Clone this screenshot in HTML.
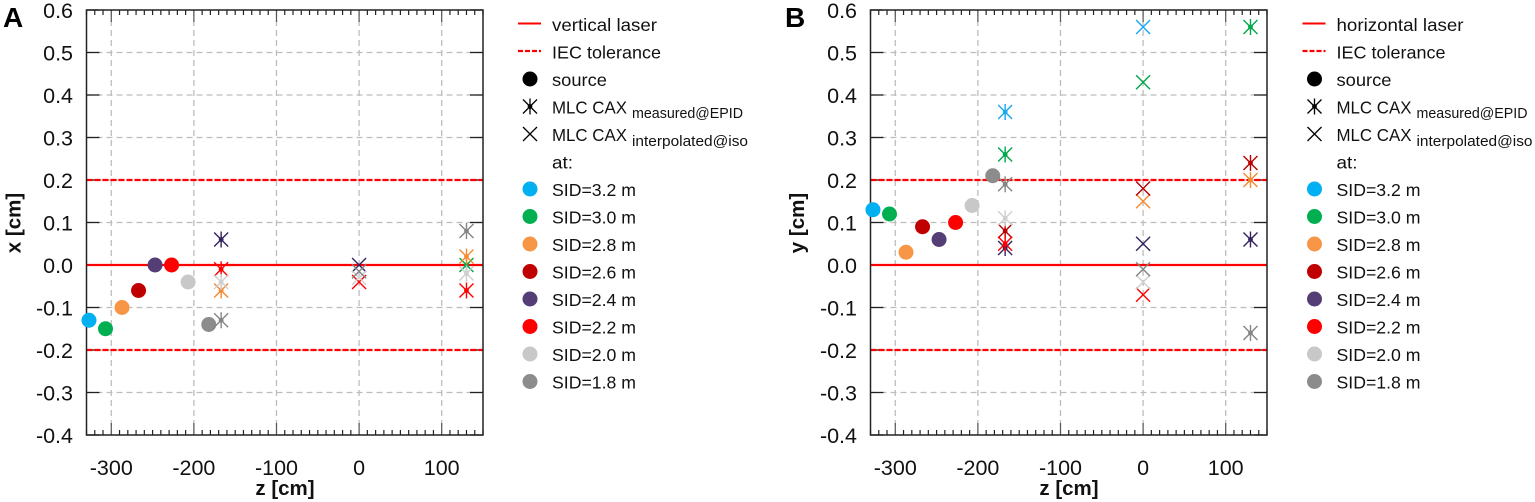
<!DOCTYPE html>
<html lang="en">
<head>
<meta charset="utf-8">
<title>MLC CAX and source positions versus lasers</title>
<style>
html,body{margin:0;padding:0;background:#fff;width:1535px;height:502px;overflow:hidden}
svg{display:block;filter:blur(0.35px)}
text{font-family:"Liberation Sans",sans-serif;fill:#111}
.leg{font-size:17.5px}
.sub{font-size:14.5px}
.tick{font-size:21.5px}
.title{font-size:20.5px;font-weight:bold}
.panel{font-size:28px;font-weight:bold;fill:#000}
</style>
</head>
<body>
<svg id="figure" xmlns="http://www.w3.org/2000/svg" width="1535" height="502" viewBox="0 0 1535 502">
  <g id="panel-a">
    <g id="plot-a"></g>
    <text class="panel" x="3" y="27">A</text>
    <text class="title" transform="translate(20.5 223) rotate(-90)" text-anchor="middle">x [cm]</text>
    <text class="title" x="285" y="495" text-anchor="middle">z [cm]</text>
    <g>
      <line x1="518" y1="23.5" x2="541" y2="23.5" stroke="#ff0000" stroke-width="2"/>
      <text class="leg" x="552" y="31" textLength="105" lengthAdjust="spacingAndGlyphs">vertical laser</text>
      <line x1="518" y1="51" x2="541" y2="51" stroke="#ff0000" stroke-width="2.2" stroke-dasharray="5 2"/>
      <text class="leg" x="552" y="58.5" textLength="109" lengthAdjust="spacingAndGlyphs">IEC tolerance</text>
      <circle cx="530" cy="79" r="7.5" fill="#000"/>
      <text class="leg" x="552" y="86" textLength="55" lengthAdjust="spacingAndGlyphs">source</text>
      <path d="M523 99.500L537 113.500M537 99.500L523 113.500M530 98.500V114.500" stroke="#000" stroke-width="1.300" fill="none"/>
      <circle cx="530" cy="106.500" r="2.4" fill="#000"/>
      <text class="leg" x="552" y="113.500" textLength="75" lengthAdjust="spacingAndGlyphs">MLC CAX</text>
      <text class="sub" x="632" y="118" textLength="111" lengthAdjust="spacingAndGlyphs">measured@EPID</text>
      <path d="M523 127L537 141M537 127L523 141" stroke="#000" stroke-width="1.300" fill="none"/>
      <text class="leg" x="552" y="141" textLength="75" lengthAdjust="spacingAndGlyphs">MLC CAX</text>
      <text class="sub" x="632" y="146" textLength="116" lengthAdjust="spacingAndGlyphs">interpolated@iso</text>
      <text class="leg" x="552" y="168.500" textLength="21" lengthAdjust="spacingAndGlyphs">at:</text>
      <circle cx="530" cy="189" r="7.5" fill="#00b0f0"/>
      <text class="leg" x="552" y="196" textLength="84" lengthAdjust="spacingAndGlyphs">SID=3.2 m</text>
      <circle cx="530" cy="216.500" r="7.5" fill="#00b050"/>
      <text class="leg" x="552" y="223.500" textLength="84" lengthAdjust="spacingAndGlyphs">SID=3.0 m</text>
      <circle cx="530" cy="244" r="7.5" fill="#f79646"/>
      <text class="leg" x="552" y="251" textLength="84" lengthAdjust="spacingAndGlyphs">SID=2.8 m</text>
      <circle cx="530" cy="271.500" r="7.5" fill="#c00000"/>
      <text class="leg" x="552" y="278.500" textLength="84" lengthAdjust="spacingAndGlyphs">SID=2.6 m</text>
      <circle cx="530" cy="299" r="7.5" fill="#553d75"/>
      <text class="leg" x="552" y="306" textLength="84" lengthAdjust="spacingAndGlyphs">SID=2.4 m</text>
      <circle cx="530" cy="326.500" r="7.5" fill="#ff0000"/>
      <text class="leg" x="552" y="333.500" textLength="84" lengthAdjust="spacingAndGlyphs">SID=2.2 m</text>
      <circle cx="530" cy="354" r="7.5" fill="#c8c8c8"/>
      <text class="leg" x="552" y="361" textLength="84" lengthAdjust="spacingAndGlyphs">SID=2.0 m</text>
      <circle cx="530" cy="381.500" r="7.5" fill="#8c8c8c"/>
      <text class="leg" x="552" y="388.500" textLength="84" lengthAdjust="spacingAndGlyphs">SID=1.8 m</text>
    </g>
  </g>
  <g id="panel-b">
    <g id="plot-b"></g>
    <text class="panel" x="785" y="27">B</text>
    <text class="title" transform="translate(804 223) rotate(-90)" text-anchor="middle">y [cm]</text>
    <text class="title" x="1069" y="495" text-anchor="middle">z [cm]</text>
    <g transform="translate(784.500 0)">
      <line x1="518" y1="23.5" x2="541" y2="23.5" stroke="#ff0000" stroke-width="2"/>
      <text class="leg" x="552" y="31" textLength="127" lengthAdjust="spacingAndGlyphs">horizontal laser</text>
      <line x1="518" y1="51" x2="541" y2="51" stroke="#ff0000" stroke-width="2.2" stroke-dasharray="5 2"/>
      <text class="leg" x="552" y="58.5" textLength="109" lengthAdjust="spacingAndGlyphs">IEC tolerance</text>
      <circle cx="530" cy="79" r="7.5" fill="#000"/>
      <text class="leg" x="552" y="86" textLength="55" lengthAdjust="spacingAndGlyphs">source</text>
      <path d="M523 99.500L537 113.500M537 99.500L523 113.500M530 98.500V114.500" stroke="#000" stroke-width="1.300" fill="none"/>
      <circle cx="530" cy="106.500" r="2.4" fill="#000"/>
      <text class="leg" x="552" y="113.500" textLength="75" lengthAdjust="spacingAndGlyphs">MLC CAX</text>
      <text class="sub" x="632" y="118" textLength="111" lengthAdjust="spacingAndGlyphs">measured@EPID</text>
      <path d="M523 127L537 141M537 127L523 141" stroke="#000" stroke-width="1.300" fill="none"/>
      <text class="leg" x="552" y="141" textLength="75" lengthAdjust="spacingAndGlyphs">MLC CAX</text>
      <text class="sub" x="632" y="146" textLength="116" lengthAdjust="spacingAndGlyphs">interpolated@iso</text>
      <text class="leg" x="552" y="168.500" textLength="21" lengthAdjust="spacingAndGlyphs">at:</text>
      <circle cx="530" cy="189" r="7.5" fill="#00b0f0"/>
      <text class="leg" x="552" y="196" textLength="84" lengthAdjust="spacingAndGlyphs">SID=3.2 m</text>
      <circle cx="530" cy="216.500" r="7.5" fill="#00b050"/>
      <text class="leg" x="552" y="223.500" textLength="84" lengthAdjust="spacingAndGlyphs">SID=3.0 m</text>
      <circle cx="530" cy="244" r="7.5" fill="#f79646"/>
      <text class="leg" x="552" y="251" textLength="84" lengthAdjust="spacingAndGlyphs">SID=2.8 m</text>
      <circle cx="530" cy="271.500" r="7.5" fill="#c00000"/>
      <text class="leg" x="552" y="278.500" textLength="84" lengthAdjust="spacingAndGlyphs">SID=2.6 m</text>
      <circle cx="530" cy="299" r="7.5" fill="#553d75"/>
      <text class="leg" x="552" y="306" textLength="84" lengthAdjust="spacingAndGlyphs">SID=2.4 m</text>
      <circle cx="530" cy="326.500" r="7.5" fill="#ff0000"/>
      <text class="leg" x="552" y="333.500" textLength="84" lengthAdjust="spacingAndGlyphs">SID=2.2 m</text>
      <circle cx="530" cy="354" r="7.5" fill="#c8c8c8"/>
      <text class="leg" x="552" y="361" textLength="84" lengthAdjust="spacingAndGlyphs">SID=2.0 m</text>
      <circle cx="530" cy="381.500" r="7.5" fill="#8c8c8c"/>
      <text class="leg" x="552" y="388.500" textLength="84" lengthAdjust="spacingAndGlyphs">SID=1.8 m</text>
    </g>
  </g>
</svg>
<script>
// Data, in SID order
const sidLabels = ['3.2', '3.0', '2.8', '2.6', '2.4', '2.2', '2.0', '1.8'];
const sourceZ = [-327, -307, -287, -267, -247, -227, -207, -182];
const zTickValues = [-300, -200, -100, 0, 100];
const offsetTickValues = [0.6, 0.5, 0.4, 0.3, 0.2, 0.1, 0.0, -0.1, -0.2, -0.3, -0.4];
const toleranceValues = [0.2, -0.2];
const laserValue = 0;
const measuredNearZ = -167;
const interpolatedZ = 0;
const measuredFarZ = 130;

const sourceA = [-0.13, -0.15, -0.10, -0.06, 0.0, 0.0, -0.04, -0.14];
const nearA = [null, null, -0.06, null, 0.06, -0.01, -0.04, -0.13];
const isoA = [null, null, null, null, 0.0, -0.04, -0.03, -0.015];
const farA = [null, 0.0, 0.02, null, null, -0.06, -0.02, 0.08];

const sourceB = [0.13, 0.12, 0.03, 0.09, 0.06, 0.10, 0.14, 0.21];
const nearB = [0.36, 0.26, null, 0.08, 0.04, 0.05, 0.11, 0.19];
const isoB = [0.56, 0.43, 0.15, 0.18, 0.05, -0.07, -0.04, -0.01];
const farB = [null, 0.56, 0.20, 0.24, 0.06, null, null, -0.16];

// Styling
const dotColors = ['#00b0f0', '#00b050', '#f79646', '#c00000', '#553d75', '#ff0000', '#c8c8c8', '#8c8c8c'];
const strokeColors = ['#18a8f0', '#00a84c', '#f58a30', '#b80000', '#33235f', '#ff0000', '#cfcfcf', '#858585'];

const SVG_NS = 'http://www.w3.org/2000/svg';
const ZMIN = -330, ZMAX = 150, VMIN = -0.4, VMAX = 0.6;
const PLOT_W = 396.5, PLOT_TOP = 10, PLOT_BOTTOM = 435;

function add(parent, tag, attrs, name) {
  const el = document.createElementNS(SVG_NS, tag);
  for (const k in attrs) el.setAttribute(k, attrs[k]);
  
  
  parent.appendChild(el);
  return el;
}

function drawPanel(groupId, left, tickRight, sources, near, iso, far) {
  const root = document.getElementById(groupId);
  const right = left + PLOT_W;
  const sx = z => left + (z - ZMIN) / (ZMAX - ZMIN) * PLOT_W;
  const sy = v => PLOT_BOTTOM - (v - VMIN) / (VMAX - VMIN) * (PLOT_BOTTOM - PLOT_TOP);

  // Grid
  zTickValues.forEach(z => {
    add(root, 'line', { x1: sx(z), x2: sx(z), y1: PLOT_TOP, y2: PLOT_BOTTOM, stroke: '#bdbdbd', 'stroke-width': 1.3, 'stroke-dasharray': '6 4' }, 'grid-line-vertical');
  });
  offsetTickValues.forEach(v => {
    if (v === VMIN || v === VMAX) return;
    add(root, 'line', { x1: left, x2: right, y1: sy(v), y2: sy(v), stroke: '#bdbdbd', 'stroke-width': 1.3, 'stroke-dasharray': '6 4' }, 'grid-line-horizontal');
  });

  // Minor and major ticks on top and bottom
  for (let z = ZMIN; z <= ZMAX; z += 10) {
    const major = zTickValues.indexOf(z) >= 0;
    const len = major ? 12 : 5;
    const col = major ? '#555' : '#222';
    add(root, 'line', { x1: sx(z), x2: sx(z), y1: PLOT_TOP, y2: PLOT_TOP + len, stroke: col, 'stroke-width': 1.2 }, 'x-tick-top');
    add(root, 'line', { x1: sx(z), x2: sx(z), y1: PLOT_BOTTOM, y2: PLOT_BOTTOM - len, stroke: col, 'stroke-width': 1.2 }, 'x-tick-bottom');
  }
  offsetTickValues.forEach(v => {
    add(root, 'line', { x1: left, x2: left + 13, y1: sy(v), y2: sy(v), stroke: '#222', 'stroke-width': 1.3 }, 'y-tick-left');
    add(root, 'line', { x1: right, x2: right - 13, y1: sy(v), y2: sy(v), stroke: '#222', 'stroke-width': 1.3 }, 'y-tick-right');
  });

  // Tick labels
  zTickValues.forEach(z => {
    const t = add(root, 'text', { x: sx(z), y: 475, 'text-anchor': 'middle', class: 'tick' }, 'x-tick-label');
    t.textContent = String(z);
  });
  offsetTickValues.forEach(v => {
    const t = add(root, 'text', { x: tickRight, y: sy(v) + 8, 'text-anchor': 'end', class: 'tick' }, 'y-tick-label');
    t.textContent = v.toFixed(1);
  });

  // Tolerance lines and laser line
  toleranceValues.forEach(v => {
    add(root, 'line', { x1: left, x2: right, y1: sy(v), y2: sy(v), stroke: '#ff0000', 'stroke-width': 2.2, 'stroke-dasharray': '6 2' }, 'iec-tolerance-line');
  });
  add(root, 'line', { x1: left, x2: right, y1: sy(laserValue), y2: sy(laserValue), stroke: '#ff0000', 'stroke-width': 2.2 }, 'laser-line');

  // Frame
  add(root, 'rect', { x: left, y: PLOT_TOP, width: PLOT_W, height: PLOT_BOTTOM - PLOT_TOP, fill: 'none', stroke: '#222', 'stroke-width': 1.5 }, 'plot-frame');

  // Source dots
  sources.forEach((v, i) => {
    add(root, 'circle', { cx: sx(sourceZ[i]), cy: sy(v), r: 7.5, fill: dotColors[i] }, 'source-sid-' + sidLabels[i]);
  });

  // Markers
  const cross = (z, v, i, name) => {
    const x = sx(z), y = sy(v), h = 7;
    add(root, 'path', { d: `M${x - h} ${y - h}L${x + h} ${y + h}M${x + h} ${y - h}L${x - h} ${y + h}`, stroke: strokeColors[i], 'stroke-width': 1.4, fill: 'none' }, name);
  };
  const star = (z, v, i, name) => {
    const x = sx(z), y = sy(v);
    cross(z, v, i, name);
    add(root, 'path', { d: `M${x} ${y - 8}V${y + 8}`, stroke: strokeColors[i], 'stroke-width': 1.4, fill: 'none' }, name + '-stem');
    add(root, 'circle', { cx: x, cy: y, r: 2.4, fill: strokeColors[i] }, name + '-center');
  };
  near.forEach((v, i) => {
    if (v !== null) star(measuredNearZ, v, i, 'measured-near-sid-' + sidLabels[i]);
  });
  iso.forEach((v, i) => {
    if (v !== null) cross(interpolatedZ, v, i, 'interpolated-sid-' + sidLabels[i]);
  });
  far.forEach((v, i) => {
    if (v !== null) star(measuredFarZ, v, i, 'measured-far-sid-' + sidLabels[i]);
  });
}

drawPanel('plot-a', 86.5, 73, sourceA, nearA, isoA, farA);
drawPanel('plot-b', 870.5, 857, sourceB, nearB, isoB, farB);
</script>
</body>
</html>
